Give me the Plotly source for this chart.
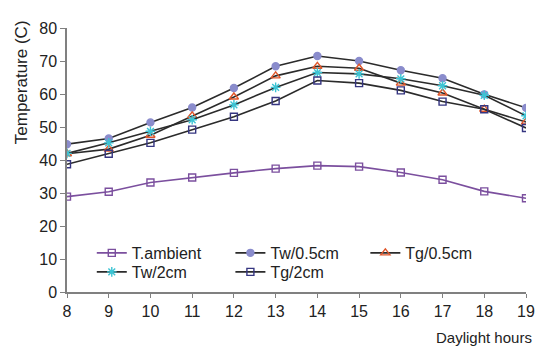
import plotly.graph_objects as go

hours = [8, 9, 10, 11, 12, 13, 14, 15, 16, 17, 18, 19]
t_ambient = [28.9, 30.4, 33.2, 34.7, 36.1, 37.4, 38.3, 38.0, 36.2, 34.0, 30.5, 28.4]
tw_05 = [44.8, 46.5, 51.4, 55.9, 61.8, 68.4, 71.5, 70.0, 67.2, 64.8, 59.9, 55.8]
tg_05 = [41.9, 43.3, 47.5, 53.4, 59.1, 65.5, 68.4, 67.8, 63.3, 60.3, 55.4, 51.5]
tw_2 = [42.0, 45.2, 48.7, 52.2, 56.7, 62.0, 66.5, 66.1, 64.6, 62.5, 59.6, 53.4]
tg_2 = [38.7, 41.9, 45.2, 49.2, 53.1, 57.9, 64.1, 63.3, 61.1, 57.7, 55.4, 49.7]

x_ticks = [8, 9, 10, 11, 12, 13, 14, 15, 16, 17, 18, 19]
y_ticks = [0, 10, 20, 30, 40, 50, 60, 70, 80]

FONT = "Liberation Sans, Arial, sans-serif"
LINE_DARK = "#2b2b2b"
TEXT = "#222222"

fig = go.Figure()
series = [
    ("T.ambient", t_ambient, "#7b4f9e", "square-open", "#7b4f9e", 7, "legend"),
    ("Tw/0.5cm", tw_05, LINE_DARK, "circle", "#8a8ccc", 7, "legend2"),
    ("Tg/0.5cm", tg_05, LINE_DARK, "triangle-up-open", "#e0562a", 8, "legend3"),
    ("Tw/2cm", tw_2, LINE_DARK, "asterisk-open", "#3cc4d4", 8, "legend4"),
    ("Tg/2cm", tg_2, LINE_DARK, "square-open", "#353580", 7, "legend5"),
]
for name, vals, lc, sym, mc, ms, lg in series:
    fig.add_trace(go.Scatter(
        x=hours, y=vals, name=name, mode="lines+markers",
        line=dict(color=lc, width=1.6),
        marker=dict(symbol=sym, color=mc, size=ms,
                    line=dict(color=mc, width=1.4)),
        legend=lg,
    ))


def leg(x, y):
    return dict(
        orientation="h", x=x, y=y, xanchor="left", yanchor="middle",
        font=dict(family=FONT, size=16, color=TEXT),
        bgcolor="rgba(0,0,0,0)", itemwidth=30,
    )


fig.update_layout(
    width=539, height=339,
    margin=dict(l=59, r=17, t=14, b=55),
    paper_bgcolor="white", plot_bgcolor="white",
    font=dict(family=FONT, size=16, color=TEXT),
    showlegend=True,
    legend=leg(0.054, 0.148),
    legend2=leg(0.356, 0.148),
    legend3=leg(0.650, 0.148),
    legend4=leg(0.054, 0.076),
    legend5=leg(0.356, 0.076),
    xaxis=dict(
        range=[8, 19], tickmode="array", tickvals=x_ticks,
        showgrid=False, zeroline=False,
        showline=True, linecolor="#808080", linewidth=1.5,
        ticks="outside", ticklen=4, tickcolor="#808080",
        tickfont=dict(family=FONT, size=16, color=TEXT),
    ),
    yaxis=dict(
        range=[0, 80], tickmode="array", tickvals=y_ticks,
        showgrid=False, zeroline=False,
        showline=True, linecolor="#808080", linewidth=1.5,
        ticks="outside", ticklen=5, tickcolor="#808080",
        tickfont=dict(family=FONT, size=16, color=TEXT),
    ),
    annotations=[
        dict(text="Daylight hours", xref="paper", yref="paper",
             x=1.017, y=-0.174, xanchor="right", yanchor="middle",
             showarrow=False, font=dict(family=FONT, size=15, color=TEXT)),
        dict(text="Temperature (C)", xref="paper", yref="paper",
             x=-0.099, y=0.793, xanchor="center", yanchor="middle", textangle=-90,
             showarrow=False, font=dict(family=FONT, size=17, color=TEXT)),
    ],
)

fig.write_html("out.html")
